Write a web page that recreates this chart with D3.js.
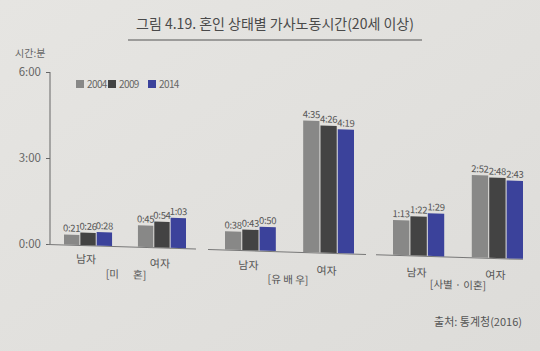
<!DOCTYPE html>
<html><head><meta charset="utf-8">
<script src="https://cdn.jsdelivr.net/npm/d3@7"></script>
<style>
html,body{margin:0;padding:0;background:#e3e2df;}
svg{display:block;}
text{font-family:"Noto Sans CJK KR","Noto Sans",sans-serif;}
</style></head><body>
<svg id="c" width="540" height="351"></svg>
<script>
const years = ["2004","2009","2014"];
const groups = ["[미      혼]","[유 배 우]","[사별 · 이혼]"];
const sexes = ["남자","여자"];
// minutes, per group -> per sex -> per year
const miHon   = [[21,26,28],[45,54,63]];
const yuBaeU  = [[38,43,50],[275,266,259]];
const sabyeol = [[73,82,89],[172,168,163]];
const yTicks = [0,180,360];
const colors = ["#888887","#434343","#3b429b"];

const data = [miHon, yuBaeU, sabyeol];
const fmt = m => Math.floor(m/60)+":"+String(m%60).padStart(2,"0");

const svg = d3.select("#c");
const defs = svg.append("defs");
const lg = defs.append("linearGradient").attr("id","bg").attr("x1",0).attr("y1",0).attr("x2",1).attr("y2",1);
lg.append("stop").attr("offset","0%").attr("stop-color","#e6e5e2");
lg.append("stop").attr("offset","100%").attr("stop-color","#dddcd9");
svg.append("rect").attr("width",540).attr("height",351).attr("fill","url(#bg)");

// title
svg.append("text").attr("x",275).attr("y",29).attr("text-anchor","middle")
  .attr("font-size",14).attr("fill","#4a4a4a")
  .text("그림 4.19. 혼인 상태별 가사노동시간(20세 이상)");
svg.append("line").attr("x1",128).attr("x2",422).attr("y1",40).attr("y2",40)
  .attr("stroke","#555").attr("stroke-width",1);

const y = d3.scaleLinear().domain([0,360]).range([244,72]);

const ax = svg.append("g").attr("transform","translate(50,0)")
  .call(d3.axisLeft(y).tickValues(yTicks).tickFormat(fmt).tickSize(4).tickPadding(5));
ax.select(".domain").attr("stroke","#666").attr("d","M0,72V244");
ax.selectAll(".tick line").attr("stroke","#666");
ax.selectAll(".tick text").attr("font-size",11.5).attr("fill","#666");
svg.append("text").attr("x",15).attr("y",57).attr("font-size",10).attr("fill","#666").text("시간:분");

// legend
const leg = svg.append("g");
const legX = [76,108,148];
years.forEach((yr,i)=>{
  leg.append("rect").attr("x",legX[i]).attr("y",80).attr("width",8).attr("height",8).attr("fill",colors[i]);
  leg.append("text").attr("x",legX[i]+11).attr("y",88).attr("font-size",10).attr("fill","#666")
    .attr("letter-spacing",-0.6).text(yr);
});

const g = svg.append("g").attr("transform","translate(50,0) skewY(1.8) translate(-50,0)");

const baseRanges = [[48,196],[208,366],[376,523]];
const barRanges  = [[64,186],[225,354],[393,523]];
const labelDy = [[18,20],[19,22],[21,21]];
const groupCx = [126,288,458];
baseRanges.forEach((r,gi)=>{
  const br = barRanges[gi];
  const x0 = d3.scaleBand().domain(sexes).range(br).paddingInner(0.35).paddingOuter(0);
  const x1 = d3.scaleBand().domain(years).range([0,x0.bandwidth()]).paddingInner(0.06);
  const gg = g.append("g");
  gg.append("line").attr("x1",r[0]).attr("x2",r[1]).attr("y1",y(0)+0.5).attr("y2",y(0)+0.5)
    .attr("stroke","#777").attr("stroke-width",1);
  sexes.forEach((s,si)=>{
    years.forEach((yr,yi)=>{
      const v = data[gi][si][yi];
      const bx = x0(s)+x1(yr);
      gg.append("rect").attr("x",bx).attr("y",y(v)).attr("width",x1.bandwidth())
        .attr("height",y(0)-y(v)).attr("fill",colors[yi]);
      gg.append("text").attr("x",bx+x1.bandwidth()/2).attr("y",y(v)-3)
        .attr("text-anchor","middle").attr("font-size",9.5).attr("fill","#555")
        .attr("letter-spacing",-0.3).text(fmt(v));
    });
    gg.append("text").attr("x",x0(s)+x0.bandwidth()/2-2).attr("y",y(0)+labelDy[gi][si])
      .attr("text-anchor","middle").attr("font-size",11).attr("fill","#555").text(s);
  });
  gg.append("text").attr("x",groupCx[gi]).attr("y",y(0)+32)
    .attr("text-anchor","middle").attr("font-size",10.5).attr("fill","#555")
    .attr("xml:space","preserve").style("white-space","pre").text(groups[gi]);
});

svg.append("text").attr("x",522).attr("y",326).attr("text-anchor","end")
  .attr("font-size",11).attr("fill","#555").text("출처: 통계청(2016)");
</script>
</body></html>
